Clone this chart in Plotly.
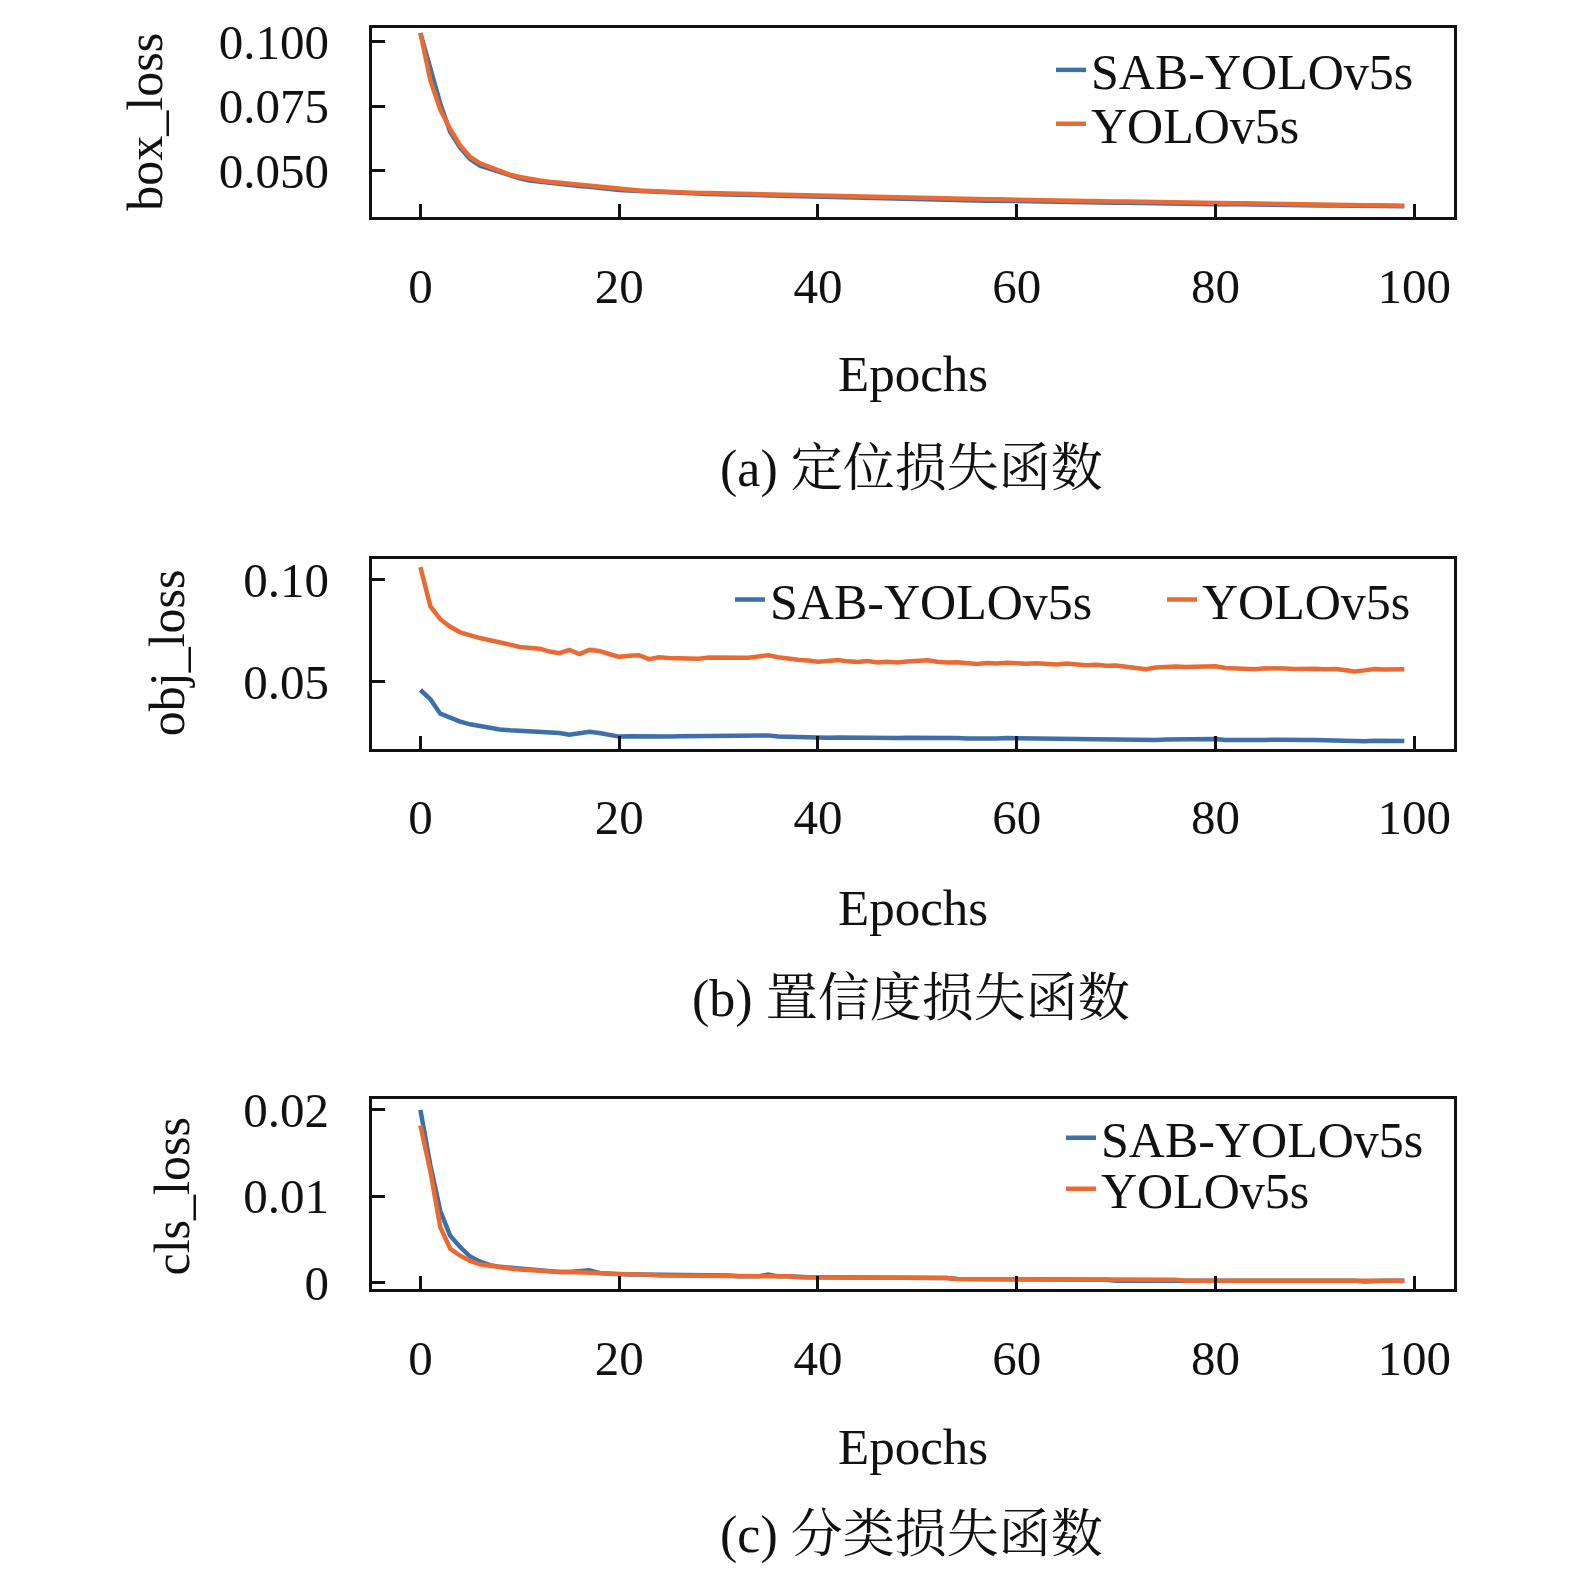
import plotly.graph_objects as go

# training curves, one value per epoch (0..99)
epochs = list(range(100))

box_sab = [
    0.1034, 0.0889, 0.0760, 0.0650, 0.0590, 0.0545, 0.0520, 0.0507, 0.0494, 0.0481,
    0.0471, 0.0462, 0.0457, 0.0452, 0.0448, 0.0444, 0.0441, 0.0438, 0.0433, 0.0429,
    0.0425, 0.0423, 0.0421, 0.0418, 0.0416, 0.0415, 0.0413, 0.0412, 0.0411, 0.0410,
    0.0409, 0.0408, 0.0408, 0.0407, 0.0407, 0.0405, 0.0403, 0.0401, 0.0400, 0.0398,
    0.0397, 0.0396, 0.0395, 0.0394, 0.0394, 0.0393, 0.0392, 0.0391, 0.0391, 0.0390,
    0.0389, 0.0388, 0.0388, 0.0387, 0.0386, 0.0386, 0.0385, 0.0384, 0.0384, 0.0383,
    0.0382, 0.0382, 0.0381, 0.0381, 0.0380, 0.0379, 0.0379, 0.0378, 0.0378, 0.0377,
    0.0376, 0.0376, 0.0375, 0.0375, 0.0374, 0.0373, 0.0373, 0.0372, 0.0372, 0.0371,
    0.0370, 0.0371, 0.0370, 0.0370, 0.0369, 0.0368, 0.0368, 0.0367, 0.0367, 0.0366,
    0.0366, 0.0365, 0.0365, 0.0364, 0.0364, 0.0363, 0.0363, 0.0362, 0.0362, 0.0362,
]
box_yolo = [
    0.1034, 0.0851, 0.0737, 0.0661, 0.0598, 0.0554, 0.0529, 0.0515, 0.0499, 0.0485,
    0.0476, 0.0468, 0.0462, 0.0457, 0.0453, 0.0449, 0.0445, 0.0442, 0.0437, 0.0431,
    0.0428, 0.0425, 0.0423, 0.0421, 0.0419, 0.0418, 0.0416, 0.0415, 0.0414, 0.0414,
    0.0413, 0.0412, 0.0412, 0.0411, 0.0411, 0.0410, 0.0408, 0.0406, 0.0405, 0.0403,
    0.0402, 0.0401, 0.0400, 0.0399, 0.0399, 0.0398, 0.0397, 0.0396, 0.0396, 0.0395,
    0.0394, 0.0393, 0.0393, 0.0392, 0.0391, 0.0391, 0.0390, 0.0389, 0.0389, 0.0388,
    0.0387, 0.0387, 0.0386, 0.0386, 0.0385, 0.0384, 0.0384, 0.0383, 0.0383, 0.0382,
    0.0381, 0.0381, 0.0380, 0.0380, 0.0379, 0.0378, 0.0378, 0.0377, 0.0377, 0.0376,
    0.0375, 0.0375, 0.0374, 0.0374, 0.0373, 0.0372, 0.0372, 0.0371, 0.0370, 0.0370,
    0.0369, 0.0369, 0.0368, 0.0367, 0.0367, 0.0366, 0.0366, 0.0365, 0.0365, 0.0364,
]

obj_sab = [
    0.0460, 0.0415, 0.0344, 0.0322, 0.0305, 0.0292, 0.0282, 0.0273, 0.0267, 0.0263,
    0.0260, 0.0257, 0.0255, 0.0253, 0.0250, 0.0241, 0.0248, 0.0256, 0.0250, 0.0240,
    0.0232, 0.0234, 0.0233, 0.0231, 0.0232, 0.0233, 0.0234, 0.0235, 0.0234, 0.0236,
    0.0237, 0.0236, 0.0237, 0.0239, 0.0242, 0.0238, 0.0233, 0.0231, 0.0230, 0.0227,
    0.0224, 0.0226, 0.0228, 0.0227, 0.0225, 0.0227, 0.0224, 0.0226, 0.0225, 0.0227,
    0.0227, 0.0229, 0.0226, 0.0224, 0.0225, 0.0223, 0.0222, 0.0224, 0.0223, 0.0225,
    0.0224, 0.0223, 0.0224, 0.0222, 0.0221, 0.0223, 0.0221, 0.0220, 0.0221, 0.0219,
    0.0217, 0.0215, 0.0213, 0.0211, 0.0215, 0.0218, 0.0219, 0.0218, 0.0219, 0.0217,
    0.0220, 0.0216, 0.0215, 0.0216, 0.0214, 0.0216, 0.0217, 0.0215, 0.0214, 0.0216,
    0.0215, 0.0213, 0.0214, 0.0211, 0.0207, 0.0209, 0.0212, 0.0211, 0.0211, 0.0211,
]
obj_yolo = [
    0.1061, 0.0870, 0.0806, 0.0769, 0.0742, 0.0727, 0.0714, 0.0703, 0.0694, 0.0682,
    0.0670, 0.0666, 0.0662, 0.0648, 0.0640, 0.0656, 0.0636, 0.0656, 0.0651, 0.0636,
    0.0622, 0.0627, 0.0630, 0.0611, 0.0620, 0.0617, 0.0614, 0.0615, 0.0613, 0.0619,
    0.0619, 0.0616, 0.0620, 0.0618, 0.0624, 0.0630, 0.0620, 0.0612, 0.0608, 0.0604,
    0.0598, 0.0602, 0.0606, 0.0600, 0.0597, 0.0602, 0.0594, 0.0598, 0.0595, 0.0599,
    0.0601, 0.0605, 0.0598, 0.0594, 0.0596, 0.0591, 0.0587, 0.0592, 0.0589, 0.0593,
    0.0590, 0.0588, 0.0591, 0.0588, 0.0585, 0.0589, 0.0584, 0.0581, 0.0583, 0.0578,
    0.0580, 0.0574, 0.0566, 0.0562, 0.0570, 0.0573, 0.0575, 0.0573, 0.0574, 0.0571,
    0.0576, 0.0568, 0.0565, 0.0567, 0.0562, 0.0566, 0.0568, 0.0565, 0.0563, 0.0566,
    0.0564, 0.0561, 0.0563, 0.0558, 0.0550, 0.0556, 0.0562, 0.0560, 0.0562, 0.0561,
]

cls_sab = [
    0.0200, 0.0136, 0.0083, 0.0054, 0.0041, 0.0030, 0.0024, 0.0020, 0.0018, 0.0017,
    0.0015, 0.0014, 0.0014, 0.0013, 0.0012, 0.0012, 0.0013, 0.0014, 0.0011, 0.0010,
    0.0010, 0.0009, 0.0009, 0.0009, 0.0008, 0.0008, 0.0008, 0.0008, 0.0008, 0.0009,
    0.0008, 0.0008, 0.0007, 0.0007, 0.0007, 0.0009, 0.0007, 0.0007, 0.0006, 0.0006,
    0.0006, 0.0006, 0.0006, 0.0006, 0.0006, 0.0005, 0.0005, 0.0005, 0.0005, 0.0005,
    0.0005, 0.0005, 0.0005, 0.0005, 0.0004, 0.0004, 0.0004, 0.0004, 0.0004, 0.0004,
    0.0004, 0.0004, 0.0004, 0.0004, 0.0004, 0.0003, 0.0003, 0.0003, 0.0003, 0.0003,
    0.0002, 0.0002, 0.0002, 0.0003, 0.0003, 0.0003, 0.0003, 0.0002, 0.0002, 0.0003,
    0.0003, 0.0003, 0.0002, 0.0002, 0.0002, 0.0002, 0.0002, 0.0002, 0.0002, 0.0002,
    0.0002, 0.0002, 0.0002, 0.0002, 0.0002, 0.0001, 0.0002, 0.0002, 0.0002, 0.0002,
]
cls_yolo = [
    0.0182, 0.0129, 0.0064, 0.0039, 0.0031, 0.0025, 0.0021, 0.0019, 0.0018, 0.0016,
    0.0015, 0.0014, 0.0014, 0.0013, 0.0012, 0.0012, 0.0012, 0.0012, 0.0011, 0.0010,
    0.0010, 0.0009, 0.0009, 0.0009, 0.0008, 0.0008, 0.0008, 0.0008, 0.0008, 0.0008,
    0.0008, 0.0008, 0.0007, 0.0007, 0.0007, 0.0007, 0.0007, 0.0007, 0.0006, 0.0006,
    0.0006, 0.0006, 0.0006, 0.0006, 0.0006, 0.0005, 0.0005, 0.0005, 0.0005, 0.0005,
    0.0005, 0.0005, 0.0005, 0.0005, 0.0004, 0.0004, 0.0004, 0.0004, 0.0004, 0.0004,
    0.0004, 0.0004, 0.0004, 0.0004, 0.0004, 0.0003, 0.0003, 0.0003, 0.0003, 0.0003,
    0.0003, 0.0003, 0.0003, 0.0003, 0.0003, 0.0003, 0.0003, 0.0002, 0.0002, 0.0003,
    0.0003, 0.0003, 0.0002, 0.0002, 0.0002, 0.0002, 0.0002, 0.0002, 0.0002, 0.0002,
    0.0002, 0.0002, 0.0002, 0.0002, 0.0002, 0.0002, 0.0002, 0.0002, 0.0002, 0.0002,
]

names = ["SAB-YOLOv5s", "YOLOv5s"]
colors = ["#3d6fa8", "#e96b33"]
y_titles = ["box_loss", "obj_loss", "cls_loss"]
captions = ["(a) 定位损失函数", "(b) 置信度损失函数", "(c) 分类损失函数"]
y_ticks = [[0.05, 0.075, 0.10], [0.05, 0.10], [0, 0.01, 0.02]]
y_ticktext = [["0.050", "0.075", "0.100"], ["0.05", "0.10"], ["0", "0.01", "0.02"]]
x_ticks = [0, 20, 40, 60, 80, 100]

# the page body keeps its default 8px margin, so the figure is a bit smaller
# than the window and page positions are shifted by that margin
MARGIN = 8
W, H = 1575 - 2 * MARGIN, 1586 - 2 * MARGIN
SERIF = "Liberation Serif, Times New Roman, serif"
CJK = "Liberation Serif, Noto Serif CJK SC, Noto Sans CJK SC, serif"


def px(p):
    return (p - MARGIN) / W


def py(p):
    return 1 - (p - MARGIN) / H


# page-pixel layout of the three panels (top, bottom)
panels = [(13.3, 206.7), (556.7, 750.7), (1109, 1304)]
x_left, x_right = 371.7, 1454
y_ranges = [[0.0320, 0.1053], [0.0173, 0.1100], [-0.0008, 0.0213]]
legend_pos = [
    [(1051, 56), (1051, 111)],
    [(730, 598), (1162, 598)],
    [(1061, 1149), (1061, 1201)],
]

fig = go.Figure()
series = [(box_sab, box_yolo), (obj_sab, obj_yolo), (cls_sab, cls_yolo)]
k = 0
for i, (s_sab, s_yolo) in enumerate(series):
    ax = "" if i == 0 else str(i + 1)
    for j, vals in enumerate([s_sab, s_yolo]):
        k += 1
        leg = "legend" if k == 1 else "legend%d" % k
        fig.add_trace(go.Scatter(
            x=epochs, y=vals, mode="lines", name=names[j],
            line=dict(color=colors[j], width=4.5),
            xaxis="x" + ax, yaxis="y" + ax, legend=leg,
        ))
        lx, ly = legend_pos[i][j]
        fig.update_layout({leg: dict(
            x=px(lx), y=py(ly), xanchor="left", yanchor="middle",
            bgcolor="rgba(0,0,0,0)", font=dict(family=SERIF, size=50, color="#111"),
        )})

    top, bot = panels[i]
    fig.update_layout({
        "xaxis" + ax: dict(
            domain=[px(x_left), px(x_right)], anchor="y" + ax, range=[-4.9, 104],
            tickvals=x_ticks, ticks="inside", ticklen=13, tickwidth=3, tickcolor="#111",
            showline=True, linewidth=3, linecolor="#111", mirror=True,
            showgrid=False, zeroline=False, ticklabelstandoff=24,
            tickfont=dict(family=SERIF, size=49, color="#111"),
        ),
        "yaxis" + ax: dict(
            domain=[py(bot), py(top)], anchor="x" + ax, range=y_ranges[i],
            tickvals=y_ticks[i], ticktext=y_ticktext[i], ticks="inside", ticklen=13,
            tickwidth=3, tickcolor="#111",
            showline=True, linewidth=3, linecolor="#111", mirror=True,
            showgrid=False, zeroline=False, ticklabelstandoff=30,
            tickfont=dict(family=SERIF, size=49, color="#111"),
        ),
    })

cx = px((x_left + x_right) / 2)
ann = []
epoch_y = [367, 914, 1465]
cap_y = [464, 1007, 1555]
ytitle_xy = [(145, 109), (167, 653), (172, 1209)]
for i in range(3):
    ann.append(dict(text="Epochs", x=cx, y=py(epoch_y[i]), xref="paper", yref="paper",
                    xanchor="center", yanchor="middle", showarrow=False,
                    font=dict(family=SERIF, size=51, color="#111")))
    ann.append(dict(text=captions[i], x=px(911), y=py(cap_y[i]), xref="paper", yref="paper",
                    xanchor="center", yanchor="middle", showarrow=False,
                    font=dict(family=CJK, size=52, color="#111")))
    tx, ty = ytitle_xy[i]
    ann.append(dict(text=y_titles[i], x=px(tx), y=py(ty), xref="paper", yref="paper",
                    xanchor="center", yanchor="middle", textangle=-90, showarrow=False,
                    font=dict(family=SERIF, size=50, color="#111")))

fig.update_layout(
    width=W, height=H, margin=dict(l=0, r=0, t=0, b=0),
    paper_bgcolor="white", plot_bgcolor="white",
    annotations=ann, showlegend=True,
)

fig.write_html("out.html")
